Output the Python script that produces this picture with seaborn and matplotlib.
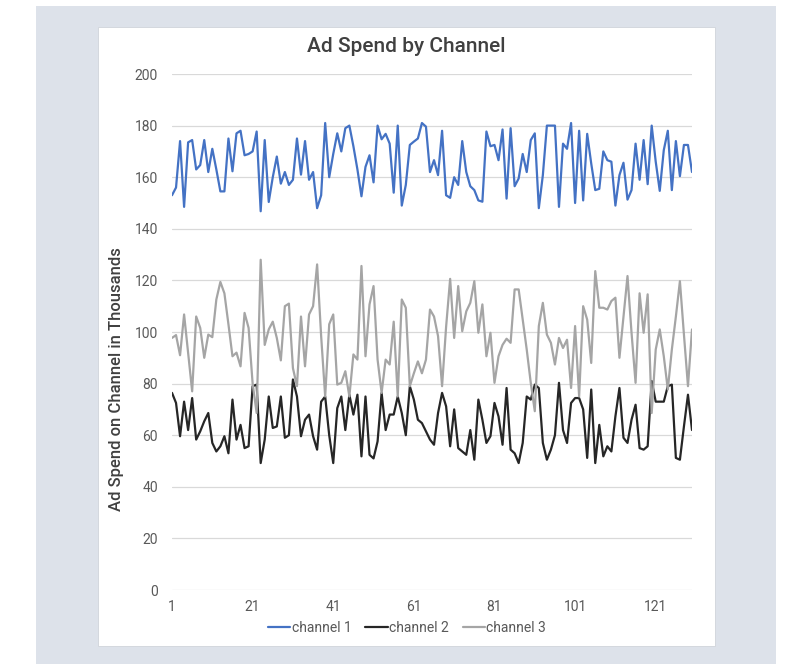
import numpy as np
import pandas as pd
import matplotlib
matplotlib.use("Agg")
import matplotlib.pyplot as plt
from matplotlib.patches import Rectangle
import seaborn as sns

# Daily ad spend (thousands) for each channel, days 1..130
channel_1 = [
    153, 156, 174, 148.5, 173.5, 174.4, 163, 164.7, 174.4, 162,
    171, 163, 154.5, 154.5, 175, 162.3, 177, 178, 168.5, 169,
    170, 177.7, 146.8, 174.4, 150.4, 160, 168, 157.5, 162, 157,
    159, 175, 161, 174, 159, 162, 148, 153, 181, 160,
    169, 177, 170, 179, 180, 172, 163, 152.6, 164, 168.5,
    158, 180, 174.7, 176.8, 173, 154, 180, 149, 157, 172.5,
    173.8, 175, 181, 179.6, 162, 166.6, 160.8, 178, 153, 152,
    160, 157, 174, 162, 156.5, 155, 151, 150.5, 177.7, 172,
    172.5, 166.6, 178.5, 151.7, 179, 156.5, 159.5, 169, 162, 174.4,
    177, 148, 160.8, 180, 180, 180, 148.5, 173, 171, 181,
    150, 178, 151, 176.8, 165.3, 155, 155.5, 170, 166.6, 166,
    149, 160.8, 165.6, 151.3, 155, 173, 159, 174.4, 157.3, 180,
    166, 154.7, 170.5, 178, 155, 174, 160.4, 172.5, 172.5, 162,
]
channel_2 = [
    76.4, 72.5, 59.6, 73, 62, 74.4, 58.3, 61.5, 65.4, 68.6,
    57, 53.7, 55.7, 59.6, 53, 73.8, 58.3, 64, 55, 55.7,
    79, 79.6, 49.2, 58.3, 75, 62.8, 63.4, 75, 59, 60,
    81.6, 75, 59.6, 66, 68, 59.6, 54.4, 73, 75, 60,
    49.2, 70.5, 75, 62, 75.7, 68, 75.7, 51.8, 75, 52.4,
    51, 57.6, 76.4, 62, 68, 68, 75, 68.6, 60, 79,
    73.8, 66, 64.7, 61.5, 58.3, 56.3, 68.6, 76.4, 71.2, 55.7,
    70, 55, 53.7, 52.4, 62, 50.5, 73.8, 66, 57, 59.6,
    72.5, 67.3, 56.3, 78.3, 54.4, 53, 49.2, 57, 75, 73.8,
    79.6, 78.3, 57, 50.5, 54.4, 60, 80.3, 62, 57, 72.5,
    74.4, 74.4, 70, 51.2, 77.7, 49.2, 64, 51.8, 55.7, 53.7,
    67.3, 78.3, 59, 57, 66, 71.8, 55, 54.4, 55.7, 81,
    73, 73, 73, 79, 79.6, 51.2, 50.5, 63.4, 75.7, 62,
]
channel_3 = [
    97.7, 98.8, 91, 106.8, 92, 77, 106, 101.6, 90, 99,
    98, 112.6, 119.4, 115, 103, 90.6, 92, 86.7, 107.4, 101.6,
    80, 68.6, 128, 95, 101, 104, 97.7, 89, 110, 111,
    86, 79, 106, 86.7, 106.8, 110, 126.2, 98.4, 75, 103,
    106.8, 79.6, 80.3, 84.8, 75, 91.3, 89.3, 125.6, 90.6, 110.7,
    117.8, 89.3, 76.4, 89.3, 87.4, 104, 75, 112.6, 109.4, 79,
    84, 88.6, 84, 89.3, 108.7, 106, 98.4, 79, 102, 120.6,
    97.7, 117.8, 100.3, 108, 111.3, 119.7, 99.7, 110.7, 90.6, 99.7,
    80.3, 90.6, 95, 97.4, 95.8, 116.5, 116.5, 104.8, 93.2, 80.3,
    69.3, 102.3, 111.3, 99, 95.8, 87.4, 97.7, 93.8, 97, 78.3,
    102.3, 75, 110, 104.8, 88, 123.6, 109.4, 109.4, 108.7, 112,
    113.3, 90, 106, 121.7, 99.7, 80.3, 115, 99.7, 114.6, 68.6,
    93.2, 101, 90.6, 77.7, 93.2, 106, 119.7, 99, 79, 101,
]
channel_names = ["channel 1", "channel 2", "channel 3"]
x_ticks = [1, 21, 41, 61, 81, 101, 121]
y_ticks = [0, 20, 40, 60, 80, 100, 120, 140, 160, 180, 200]

days = np.arange(1, len(channel_1) + 1)
df = pd.concat([
    pd.DataFrame({"day": days, "spend": vals, "channel": name})
    for name, vals in zip(channel_names, [channel_1, channel_2, channel_3])
], ignore_index=True)

sns.set_style("white")
plt.rcParams["font.family"] = ["Roboto", "DejaVu Sans"]

W, H = 788, 664
fig = plt.figure(figsize=(W / 100, H / 100), dpi=100)
fig.patch.set_facecolor("white")

# grey backdrop and the white card on top of it
fig.add_artist(Rectangle((36 / W, 0), (776 - 36) / W, (664 - 6) / H,
                         transform=fig.transFigure, facecolor="#dde2ea",
                         edgecolor="none", zorder=0))
fig.add_artist(Rectangle((98 / W, 1 - 646 / H), (715 - 98) / W, (646 - 27) / H,
                         transform=fig.transFigure, facecolor="white",
                         edgecolor="#d0d4da", linewidth=0.6, zorder=0))

ax = fig.add_axes([172 / W, 1 - 590 / H, (692 - 172) / W, (590 - 74) / H])
ax.set_facecolor("none")

palette = {"channel 1": "#4472c4", "channel 2": "#262626", "channel 3": "#a5a5a5"}
sns.lineplot(data=df, x="day", y="spend", hue="channel", palette=palette,
             linewidth=1.6, ax=ax, legend=False, zorder=3)

ax.set_xlim(1, len(channel_1))
ax.set_ylim(0, 200)
ax.set_xticks(x_ticks)
ax.set_yticks(y_ticks)
ax.tick_params(axis="both", length=0, labelsize=10, labelcolor="#595959")
ax.tick_params(axis="y", pad=10)
ax.tick_params(axis="x", pad=7)
ax.grid(axis="y", color="#d9d9d9", linewidth=0.9, zorder=0)
ax.grid(axis="x", visible=False)
for s in ax.spines.values():
    s.set_visible(False)

ax.set_xlabel("")
ax.set_ylabel("")
fig.text(117 / W, 1 - 379 / H, "Ad Spend on Channel in Thousands", rotation=90,
         ha="center", va="center", fontsize=12, color="#404040", fontweight="medium")
fig.text(406 / W, 1 - 47 / H, "Ad Spend by Channel", ha="center", va="center",
         fontsize=15, color="#404040", fontweight="medium")

handles = [plt.Line2D([], [], color=palette[n], linewidth=1.6) for n in channel_names]
fig.legend(handles, channel_names, loc="center", bbox_to_anchor=(407 / W, 1 - 628 / H),
           ncol=3, frameon=False, fontsize=10, handlelength=1.6, handletextpad=0.1,
           columnspacing=1.0, labelcolor="#595959")

fig.savefig("out.png", dpi=100, facecolor=fig.get_facecolor())
